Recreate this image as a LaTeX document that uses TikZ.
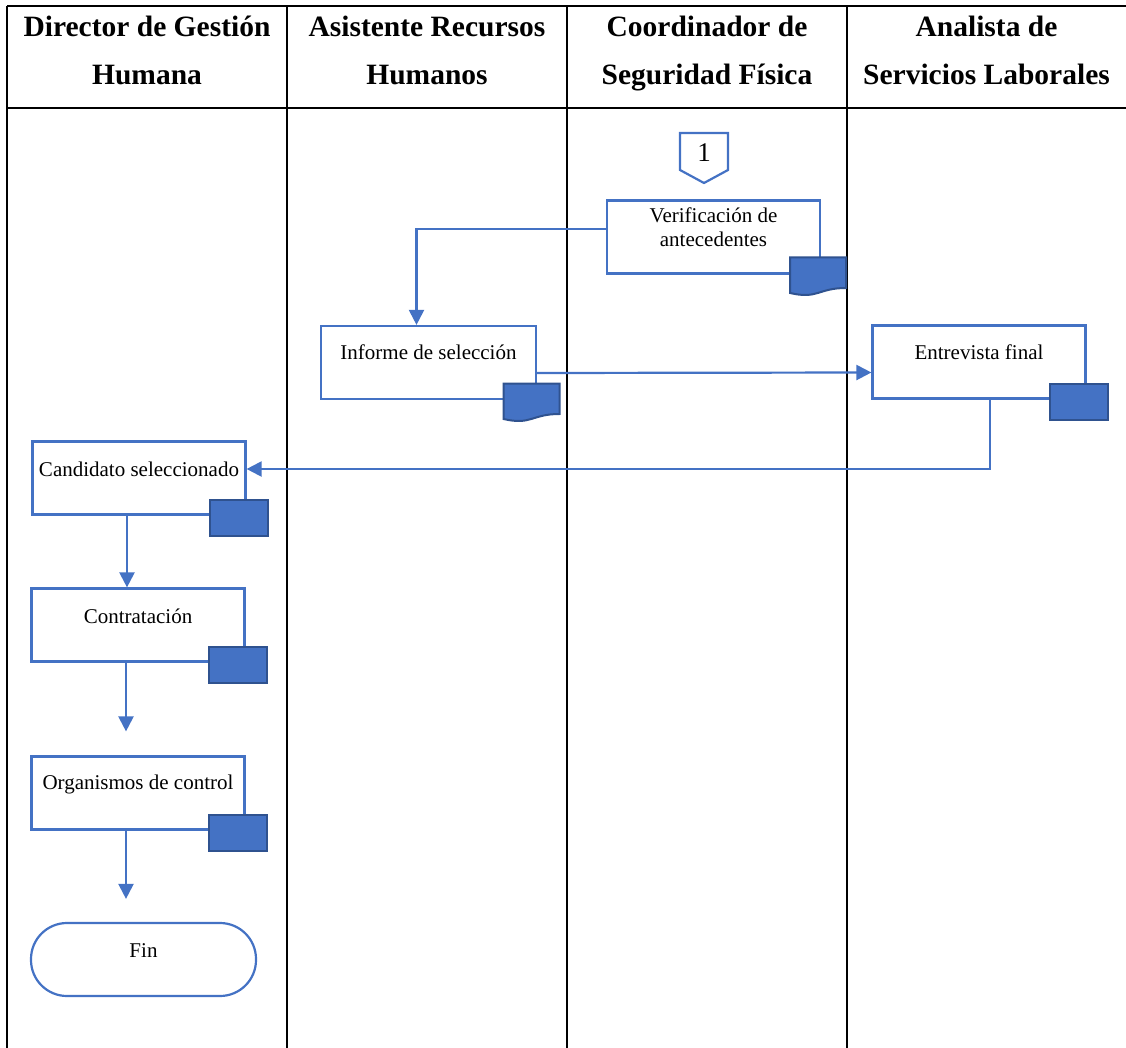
\documentclass[tikz,border=0pt]{standalone}
\usepackage{fontspec}
\setmainfont{Liberation Serif}
\usetikzlibrary{arrows.meta}
\definecolor{flowblue}{HTML}{4472C4}
\definecolor{flowdark}{HTML}{2F528F}

\begin{document}
\begin{tikzpicture}[x=1pt,y=-1pt,
  lane/.style={line width=2pt},
  head/.style={align=center,font=\bfseries\fontsize{29.5}{48}\selectfont},
  proc/.style={draw=flowblue,line width=2.2pt,fill=white,minimum width=213pt,minimum height=73pt},
  boxtext/.style={font=\fontsize{21}{24}\selectfont,align=center},
  regbox/.style={draw=flowdark,line width=2pt,fill=flowblue,minimum width=58pt,minimum height=36pt},
  flow/.style={draw=flowblue,line width=2.2pt},
  flowarrow/.style={flow,-{Triangle[length=15pt,width=15pt]}},
  docsym/.pic={\draw[draw=flowdark,line width=2pt,fill=flowblue] (-28,-19) -- (28,-19) -- (28,11.5) .. controls (0,11.5) and (0,23) .. (-28,16.5) -- cycle;}
]
\useasboundingbox (0,0) rectangle (1126,1048);

% Swimlanes: header row and column dividers
\draw[lane] (7,6) -- (1126,6);
\draw[lane] (7,108.5) -- (1126,108.5);
\draw[lane] (7,6) -- (7,1048);
\foreach \x in {287,567,847}
  \draw[lane] (\x,6) -- (\x,1048);

\node[head] (hdir) at (147,51) {Director de Gestión\strut\\Humana\strut};
\node[head] (hasis) at (427,51) {Asistente Recursos\strut\\Humanos\strut};
\node[head] (hcoor) at (707,51) {Coordinador de\strut\\Seguridad Física\strut};
\node[head] (hanal) at (986.5,51) {Analista de\strut\\Servicios Laborales\strut};

% Off-page connector
\draw[flow,fill=white] (680,133) -- (728,133) -- (728,170) -- (704,183) -- (680,170) -- cycle;
\node[font=\fontsize{27}{27}\selectfont] (one) at (704,153) {1};

% Process boxes (text sits a little above centre)
\node[proc,label={[boxtext,yshift=10pt]center:{Verificación de\\antecedentes}}] (verif) at (713.5,237) {};
\pic at (818,276.5) {docsym};

\node[proc,minimum width=215pt,label={[boxtext,yshift=10pt]center:Informe de selección}] (inf) at (428.5,362.5) {};
\pic at (531.5,402.5) {docsym};

\node[proc,label={[boxtext,yshift=10pt]center:Entrevista final}] (ent) at (979,362) {};
\node[regbox] (entm) at ([shift={(-8,2.5)}]ent.south east) {};

\node[proc,label={[boxtext,yshift=9pt]center:Candidato seleccionado}] (cand) at (139,478) {};
\node[regbox] (candm) at ([shift={(-8,2.5)}]cand.south east) {};

\node[proc,label={[boxtext,yshift=9pt]center:Contratación}] (contr) at (138,625) {};
\node[regbox] (contrm) at ([shift={(-8,2.5)}]contr.south east) {};

\node[proc,label={[boxtext,yshift=9pt]center:Organismos de control}] (org) at (138,793) {};
\node[regbox] (orgm) at ([shift={(-8,2.5)}]org.south east) {};

\node[proc,minimum width=225pt,rounded corners=36pt,label={[boxtext,yshift=8.5pt]center:Fin}] (fin) at (143.5,959.5) {};

% Connectors
\draw[flowarrow] ([yshift=8]verif.west) -| ([xshift=-12]inf.north);
\draw[flowarrow] ([yshift=-10.5]inf.east) -- ([yshift=-10.5]ent.west);
\draw[flowarrow] ([xshift=11]ent.south) |- ([yshift=9]cand.east);
\draw[flowarrow] ([xshift=-12]cand.south) -- ([xshift=-11]contr.north);
\draw[flowarrow,shorten >=24pt] ([xshift=-12]contr.south) -- ([xshift=-12]org.north);
\draw[flowarrow,shorten >=23pt] ([xshift=-12]org.south) -- ([xshift=-12]org.south |- fin.north);

\end{tikzpicture}
\end{document}
